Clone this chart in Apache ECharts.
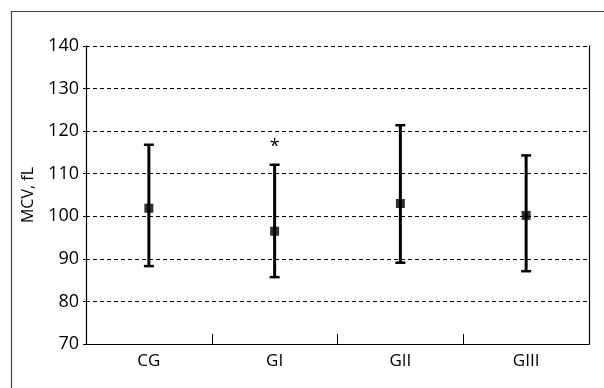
<!DOCTYPE html>
<html>
<head>
<meta charset="utf-8">
<script src="https://cdn.jsdelivr.net/npm/echarts@6/dist/echarts.min.js"></script>
<style>html,body{margin:0;padding:0;background:#fff}#c{width:604px;height:388px}</style>
</head>
<body>
<div id="c"></div>
<script>
var categories = ['CG', 'GI', 'GII', 'GIII'];
var means = [101.9, 96.5, 103.0, 100.2];
var upper = [116.8, 112.1, 121.4, 114.3];
var lower = [88.3, 85.7, 89.1, 87.1];
var marks = ['', '*', '', ''];
var yTicks = [70, 80, 90, 100, 110, 120, 130, 140];

var FONT = '"Open Sans", "DejaVu Sans", sans-serif';
var chart = echarts.init(document.getElementById('c'));

var errData = categories.map(function (c, i) { return [i, lower[i], upper[i], marks[i]]; });

chart.setOption({
  animation: false,
  backgroundColor: '#fff',
  graphic: [{
    type: 'rect', shape: { x: 11.5, y: 11.5, width: 620, height: 420 },
    style: { fill: null, stroke: '#444', lineWidth: 1.2 }, silent: true
  }],
  grid: { left: 86, right: 15, top: 46, bottom: 44 },
  xAxis: {
    type: 'category', data: categories, boundaryGap: true,
    axisLine: { lineStyle: { color: '#000', width: 1.2 } },
    axisTick: { show: true, inside: true, length: 10, lineStyle: { color: '#000', width: 1 } },
    axisLabel: { color: '#000', fontSize: 17, fontFamily: FONT, margin: 9 },
    splitLine: { show: false }
  },
  yAxis: [{
    type: 'value', min: yTicks[0], max: yTicks[yTicks.length - 1], interval: 10,
    name: 'MCV, fL', nameLocation: 'middle', nameGap: 50,
    nameTextStyle: { color: '#000', fontSize: 16, fontFamily: FONT },
    axisLine: { show: true, lineStyle: { color: '#000', width: 1.2 } },
    axisTick: { show: true, length: 3, lineStyle: { color: '#000' } },
    axisLabel: { color: '#000', fontSize: 18, fontFamily: FONT, margin: 7 },
    splitLine: { show: true, lineStyle: { color: '#000', type: [4, 3], width: 1 } }
  }, {
    type: 'value', position: 'right', min: yTicks[0], max: yTicks[yTicks.length - 1], interval: 10,
    axisLine: { show: true, lineStyle: { color: '#000', width: 1.2 } },
    axisTick: { show: false }, axisLabel: { show: false }, splitLine: { show: false }
  }],
  series: [{
    type: 'custom',
    data: errData,
    z: 3,
    renderItem: function (params, api) {
      var x = api.value(0);
      var lo = api.coord([x, api.value(1)]);
      var hi = api.coord([x, api.value(2)]);
      var cw = 5;
      var children = [
        { type: 'line', shape: { x1: lo[0], y1: lo[1], x2: hi[0], y2: hi[1] }, style: { stroke: '#000', lineWidth: 3 } },
        { type: 'line', shape: { x1: lo[0] - cw, y1: lo[1], x2: lo[0] + cw, y2: lo[1] }, style: { stroke: '#000', lineWidth: 2.5 } },
        { type: 'line', shape: { x1: hi[0] - cw, y1: hi[1], x2: hi[0] + cw, y2: hi[1] }, style: { stroke: '#000', lineWidth: 2.5 } }
      ];
      var m = api.value(3);
      if (m) {
        children.push({ type: 'text', style: { text: m, x: hi[0], y: hi[1] - 18, align: 'center', verticalAlign: 'middle', fill: '#000', fontSize: 18, fontFamily: FONT } });
      }
      return { type: 'group', children: children };
    }
  }, {
    type: 'scatter',
    data: means,
    symbol: 'rect',
    symbolSize: 9,
    z: 4,
    itemStyle: { color: '#000' }
  }]
});
</script>
</body>
</html>
